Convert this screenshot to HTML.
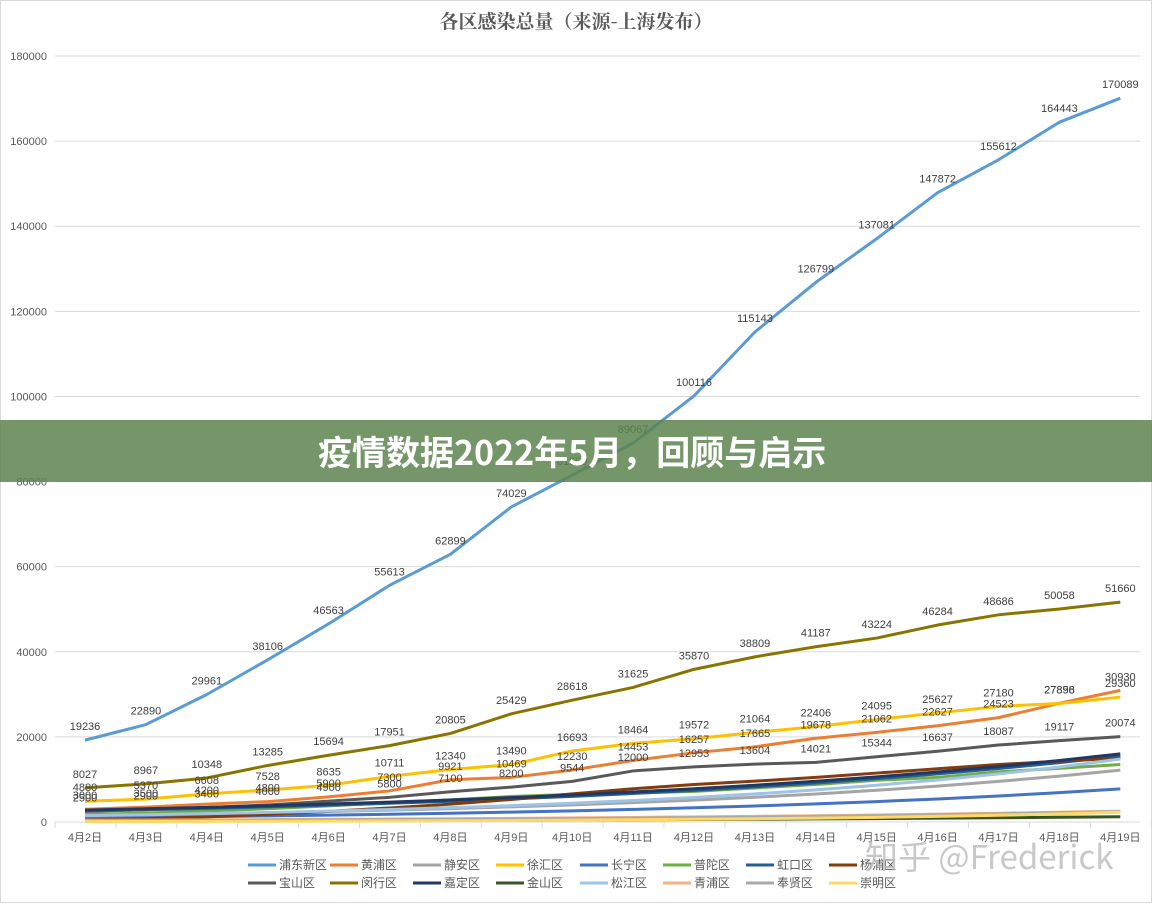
<!DOCTYPE html>
<html><head><meta charset="utf-8"><style>
body{margin:0;width:1152px;height:903px;background:#fff;overflow:hidden;font-family:"Liberation Sans","Noto Sans CJK SC",sans-serif;}
#wrap{position:relative;width:1152px;height:903px;}
#banner{position:absolute;left:0;top:420px;width:1152px;height:62px;background:rgba(92,132,78,0.85);color:#fff;font:bold 34px "Noto Sans CJK SC",sans-serif;line-height:62px;padding-left:318px;box-sizing:border-box;}
</style></head><body><div id="wrap">
<svg id="s" width="1152" height="903" xmlns="http://www.w3.org/2000/svg"></svg>
<div id="banner">疫情数据2022年5月，回顾与启示</div>
</div>
<script>
const s=document.getElementById('s');let h='';
const Y=v=>822-v*766/180000, X=i=>85+60.9*i;
h+='<rect x="0.5" y="0.5" width="1151" height="902" fill="#fff" stroke="#d9d9d9"/>';
h+='<text x="576" y="28" text-anchor="middle" font-family="Noto Serif CJK SC,serif" font-size="19" fill="#595959" font-weight="bold">各区感染总量（来源-上海发布）</text>';
for(let v=0;v<=180000;v+=20000){const y=Y(v);h+=`<line x1="55" x2="1140" y1="${y}" y2="${y}" stroke="#d9d9d9"/><text x="47" y="${y+4}" text-anchor="end" font-size="11" fill="#595959">${v}</text>`;}
for(let i=0;i<=18;i++){const x=55+60.9*i;h+=`<line x1="${x}" x2="${x}" y1="822" y2="828" stroke="#d9d9d9"/>`;}
for(let i=0;i<18;i++)h+=`<text x="${X(i)}" y="841" text-anchor="middle" font-size="11" fill="#595959" font-family="Liberation Sans,Noto Sans CJK SC,sans-serif">4月${i+2}日</text>`;
const L=(a,b)=>Array.from({length:18},(_,i)=>Math.round(a*Math.pow(b/a,i/17)));
const S=[
['浦东新区','#5b9bd5',[19236,22890,29961,38106,46563,55613,62899,74029,81500,89067,100116,115143,126799,137081,147872,155612,164443,170089],1],
['黄浦区','#ed7d31',[3000,3500,4200,4800,5900,7300,9921,10469,12230,14453,16257,17665,19678,21062,22627,24523,27898,30930],1],
['静安区','#a5a5a5',L(1500,12200),0],
['徐汇区','#ffc000',[4880,5370,6608,7528,8635,10711,12340,13490,16693,18464,19572,21064,22406,24095,25627,27180,27856,29360],1],
['长宁区','#4472c4',L(1000,7775),0],
['普陀区','#70ad47',[1800,2100,2600,3100,3800,4500,5200,6000,6500,6800,7200,8000,8800,9800,10500,11800,12600,13500],0],
['虹口区','#255e91',L(2600,15500),0],
['杨浦区','#843c0c',[500,800,1200,1800,2500,3300,4200,5300,6600,7800,8800,9600,10500,11500,12500,13500,14300,15000],0],
['宝山区','#595959',[2500,2900,3400,4000,4900,5800,7100,8200,9544,12000,12953,13604,14021,15344,16637,18087,19117,20074],1],
['闵行区','#8a7400',[8027,8967,10348,13285,15694,17951,20805,25429,28618,31625,35870,38809,41187,43224,46284,48686,50058,51660],1],
['嘉定区','#203864',L(2800,16000),0],
['金山区','#375623',L(200,1240),0],
['松江区','#9dc3e6',L(1500,14800),0],
['青浦区','#f4b183',L(400,2560),0],
['奉贤区','#a9a9a9',L(300,2450),0],
['崇明区','#ffd966',L(100,2300),0]];
S.forEach(([n,c,d,lab])=>{h+=`<polyline fill="none" stroke="${c}" stroke-width="3" stroke-linejoin="round" points="${d.map((v,i)=>X(i)+','+Y(v)).join(' ')}"/>`;});
S.forEach(([n,c,d,lab])=>{if(lab)d.forEach((v,i)=>{h+=`<text x="${X(i)}" y="${Y(v)-10}" text-anchor="middle" font-size="11" fill="#404040">${v}</text>`;});});
const lx=[248,330,413,496,580,663,746,829];
S.forEach(([n,c],k)=>{const x=lx[k%8],y=k<8?865:883;h+=`<line x1="${x}" x2="${x+28}" y1="${y}" y2="${y}" stroke="${c}" stroke-width="3"/><text x="${x+31}" y="${y+4}" font-size="12" fill="#595959" font-family="Noto Sans CJK SC,sans-serif">${n}</text>`;});
h+='<text x="865" y="869" font-size="33" fill="#bbb" opacity="0.8" font-family="Noto Sans CJK SC,sans-serif">知乎 @Frederick</text>';
s.innerHTML=h;
</script></body></html>
